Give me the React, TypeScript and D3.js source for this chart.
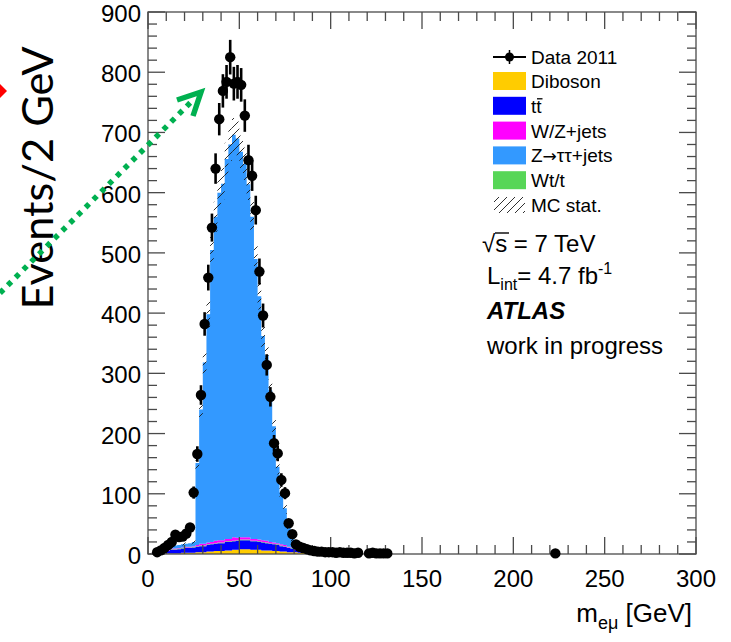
import { useRef, useEffect } from 'react'
import * as d3 from 'd3'

const FONT = '"Liberation Sans", Arial, Helvetica, sans-serif'

// 2 GeV bins, lower edges 0..98
const binLow = d3.range(0, 100, 2)

// MC backgrounds (events / 2 GeV), stacked bottom -> top
const diboson = [
  0, 0, 0, 0, 1, 1, 1, 1, 1, 2,
  2, 2, 2, 3, 3, 3, 4, 4, 5, 5,
  5, 6, 6, 7, 7, 8, 8, 8, 7, 7,
  7, 6, 6, 6, 5, 5, 4, 4, 3, 3,
  3, 2, 2, 2, 1, 1, 1, 1, 1, 1,
]
const ttbar = [
  0, 1, 2, 3, 4, 5, 6, 6, 7, 7,
  8, 8, 9, 9, 10, 10, 11, 12, 12, 13,
  13, 14, 14, 14, 15, 15, 15, 15, 14, 14,
  13, 13, 12, 11, 11, 10, 9, 8, 7, 6,
  5, 4, 3, 3, 2, 1, 1, 0, 0, 0,
]
const wtop = [
  0, 0, 0, 0, 0, 0, 1, 1, 1, 1,
  1, 1, 1, 1, 1, 1, 1, 1, 1, 1,
  1, 1, 1, 1, 1, 1, 1, 1, 1, 1,
  1, 1, 1, 1, 1, 1, 1, 1, 1, 1,
  0, 0, 0, 0, 0, 0, 0, 0, 0, 0,
]
const wzjets = [
  0, 0, 0, 0, 0, 1, 1, 1, 1, 1,
  1, 1, 1, 2, 3, 3, 3, 3, 4, 4,
  4, 4, 4, 6, 4, 4, 4, 4, 3, 3,
  3, 3, 3, 2, 2, 2, 2, 2, 1, 1,
  1, 1, 0, 0, 0, 0, 0, 0, 0, 0,
]
const ztautau = [
  0, 0, 1, 2, 3, 3, 3, 5, 5, 5,
  5, 6, 7, 136, 223, 301, 379, 485, 538, 577,
  592, 631, 655, 668, 663, 640, 620, 586, 535, 465,
  404, 339, 308, 252, 193, 127, 86, 61, 36, 15,
  5, 2, 1, 0, 0, 0, 0, 0, 0, 0,
]
const mcStatErr = [
  1, 1, 1, 1, 2, 2, 2, 2, 2, 2,
  2, 2, 3, 15, 18, 20, 22, 24, 25, 26,
  26, 27, 27, 28, 28, 27, 27, 26, 25, 24,
  22, 21, 20, 18, 16, 13, 11, 9, 7, 5,
  4, 3, 2, 2, 2, 1, 1, 1, 1, 1,
]

// data 2011, bin centres and counts
const dataX = [
  5, 7, 9, 11, 13, 15, 17, 19, 21, 23, 25, 27, 29, 31, 33, 35, 37, 39, 41, 43,
  45, 47, 49, 51, 53, 55, 57, 59, 61, 63, 65, 67, 69, 71, 73, 75, 77, 79, 81, 83,
  85, 87, 89, 91, 93, 95, 97, 99, 101, 103, 105, 107, 109, 111, 113, 115,
  121, 123, 125, 127, 129, 131, 223,
]
const dataY = [
  3, 6, 10, 15, 20, 32, 28, 29, 34, 44, 102, 166, 264, 382, 459, 542, 640, 722, 769, 784,
  825, 781, 784, 779, 728, 654, 628, 571, 469, 396, 314, 261, 184, 167, 123, 101, 51, 33, 16, 12,
  10, 8, 6, 5, 4, 4, 3, 3, 3, 2, 3, 2, 2, 2, 1, 2,
  1, 2, 1, 1, 1, 1, 1,
]

const yTicks = [0, 100, 200, 300, 400, 500, 600, 700, 800, 900]
const xTicks = [0, 50, 100, 150, 200, 250, 300]

const COLORS: Record<string, string> = {
  diboson: '#ffcc00',
  ttbar: '#0000ff',
  wtop: '#57d657',
  wzjets: '#ff00ff',
  ztautau: '#3399ff',
}
const SERIES: Record<string, number[]> = { diboson, ttbar, wtop, wzjets, ztautau }
const KEYS = ['diboson', 'ttbar', 'wtop', 'wzjets', 'ztautau']

const LEGEND = [
  { key: 'diboson', label: 'Diboson' },
  { key: 'ttbar', label: 'tt' },
  { key: 'wzjets', label: 'W/Z+jets' },
  { key: 'ztautau', label: 'Z' },
  { key: 'wtop', label: 'Wt/t' },
]

export default function App() {
  const svgRef = useRef<SVGSVGElement | null>(null)

  useEffect(() => {
    const el = svgRef.current
    if (!el) return
    const svg = d3.select(el)
    svg.selectAll('*').remove()

    const pad = { l: 148, r: 696, t: 12, b: 554 }
    const x = d3.scaleLinear().domain([0, 300]).range([pad.l, pad.r])
    const y = d3.scaleLinear().domain([0, 900]).range([pad.b, pad.t])

    const defs = svg.append('defs')
    const pat = defs.append('pattern')
      .attr('id', 'hatch').attr('patternUnits', 'userSpaceOnUse')
      .attr('width', 8).attr('height', 8)
    pat.append('path')
      .attr('d', 'M0,8 L8,0 M-2,2 L2,-2 M6,10 L10,6')
      .attr('stroke', '#1a1a1a').attr('stroke-width', 0.9)

    // stacked MC
    const rows = [...binLow, 100].map((lo, k) => {
      const i = Math.min(k, binLow.length - 1)
      const r: any = { lo, i }
      KEYS.forEach(key => { r[key] = SERIES[key][i] })
      return r
    })
    const stacked = d3.stack<any>().keys(KEYS)(rows)
    const area = d3.area<any>()
      .curve(d3.curveStepAfter)
      .x(d => x(d.data.lo))
      .y0(d => y(d[0]))
      .y1(d => y(d[1]))

    svg.append('g').selectAll('path')
      .data(stacked)
      .join('path')
      .attr('d', area)
      .attr('fill', d => COLORS[d.key])

    // MC stat band
    const total = (i: number) => KEYS.reduce((s, key) => s + SERIES[key][i], 0)
    const band = d3.area<any>()
      .curve(d3.curveStepAfter)
      .x(d => x(d.lo))
      .y0(d => y(Math.max(0, total(d.i) - mcStatErr[d.i])))
      .y1(d => y(total(d.i) + mcStatErr[d.i]))
    svg.append('path')
      .datum(rows)
      .attr('d', band)
      .attr('fill', 'url(#hatch)')

    // frame and ticks
    const axisCol = '#4a4a4a'
    const ax = svg.append('g').attr('stroke', axisCol).attr('stroke-width', 1.3)
    ax.append('rect')
      .attr('x', pad.l).attr('y', pad.t)
      .attr('width', pad.r - pad.l).attr('height', pad.b - pad.t)
      .attr('fill', 'none')

    const yMinor = d3.range(0, 901, 20)
    ax.selectAll('.yl').data(yMinor).join('line')
      .attr('x1', pad.l).attr('x2', d => pad.l + (d % 100 === 0 ? 17 : 9))
      .attr('y1', d => y(d)).attr('y2', d => y(d))
    ax.selectAll('.yr').data(yMinor).join('line')
      .attr('x1', pad.r).attr('x2', d => pad.r - (d % 100 === 0 ? 17 : 9))
      .attr('y1', d => y(d)).attr('y2', d => y(d))
    const xMinor = d3.range(0, 301, 10)
    ax.selectAll('.xb').data(xMinor).join('line')
      .attr('x1', d => x(d)).attr('x2', d => x(d))
      .attr('y1', pad.b).attr('y2', d => pad.b - (d % 50 === 0 ? 17 : 9))
    ax.selectAll('.xt').data(xMinor).join('line')
      .attr('x1', d => x(d)).attr('x2', d => x(d))
      .attr('y1', pad.t).attr('y2', d => pad.t + (d % 50 === 0 ? 17 : 9))

    svg.append('g').selectAll('text').data(yTicks).join('text')
      .attr('x', 141).attr('y', d => y(d) + 10)
      .attr('text-anchor', 'end').attr('font-size', 24)
      .attr('font-family', FONT).attr('fill', '#000')
      .text(d => d)
    svg.append('g').selectAll('text').data(xTicks).join('text')
      .attr('x', d => x(d)).attr('y', 587)
      .attr('text-anchor', 'middle').attr('font-size', 24)
      .attr('font-family', FONT).attr('fill', '#000')
      .text(d => d)

    // data points
    const pts = svg.append('g')
    dataX.forEach((c, i) => {
      const v = dataY[i]
      const e = Math.sqrt(v)
      pts.append('line')
        .attr('x1', x(c)).attr('x2', x(c))
        .attr('y1', y(v - e)).attr('y2', y(v + e))
        .attr('stroke', '#000').attr('stroke-width', 2.6)
      pts.append('circle')
        .attr('cx', x(c)).attr('cy', y(v)).attr('r', 5.2)
        .attr('fill', '#000')
    })

    // axis title
    const xt = svg.append('text')
      .attr('x', 692).attr('y', 622)
      .attr('text-anchor', 'end').attr('font-size', 26)
      .attr('font-family', FONT).attr('fill', '#000')
    xt.append('tspan').text('m')
    xt.append('tspan').attr('font-size', 18).attr('dy', 7).text('e\u03bc')
    xt.append('tspan').attr('dy', -7).text(' [GeV]')

    // legend
    const lg = svg.append('g').attr('font-family', FONT).attr('font-size', 19).attr('fill', '#000')
    lg.append('line').attr('x1', 493).attr('x2', 526).attr('y1', 57).attr('y2', 57)
      .attr('stroke', '#000').attr('stroke-width', 2)
    lg.append('line').attr('x1', 509.5).attr('x2', 509.5).attr('y1', 50).attr('y2', 64)
      .attr('stroke', '#000').attr('stroke-width', 1.5)
    lg.append('circle').attr('cx', 509.5).attr('cy', 57).attr('r', 4.5).attr('fill', '#000')
    lg.append('text').attr('x', 531).attr('y', 64).text('Data 2011')

    LEGEND.forEach((item, k) => {
      const top = 72 + k * 24.8
      lg.append('rect').attr('x', 493).attr('y', top).attr('width', 33).attr('height', 18)
        .attr('fill', COLORS[item.key])
      const t = lg.append('text').attr('x', 531).attr('y', top + 16).text(item.label)
      if (item.key === 'ztautau') {
        t.append('tspan').attr('font-family', '"DejaVu Sans", sans-serif').attr('font-size', 17).text('\u2192')
        t.append('tspan').text('\u03c4\u03c4+jets')
      }
      if (item.key === 'ttbar') {
        lg.append('line').attr('x1', 537).attr('x2', 542.5)
          .attr('y1', top + 2).attr('y2', top + 2)
          .attr('stroke', '#000').attr('stroke-width', 1.3)
      }
    })
    lg.append('rect').attr('x', 494).attr('y', 197).attr('width', 31).attr('height', 16)
      .attr('fill', 'url(#hatch)')
    lg.append('text').attr('x', 531).attr('y', 212).text('MC stat.')

    // run info
    const info = svg.append('g').attr('font-family', FONT).attr('font-size', 24).attr('fill', '#000')
    info.append('text').attr('x', 482).attr('y', 252).text('\u221as = 7 TeV')
    info.append('line').attr('x1', 495).attr('x2', 509).attr('y1', 233).attr('y2', 233)
      .attr('stroke', '#000').attr('stroke-width', 1.4)
    const lint = info.append('text').attr('x', 487).attr('y', 284)
    lint.append('tspan').text('L')
    lint.append('tspan').attr('font-size', 16).attr('dy', 6).text('int')
    lint.append('tspan').attr('dy', -6).text('= 4.7 fb')
    lint.append('tspan').attr('font-size', 16).attr('dy', -10).text('-1')
    info.append('text').attr('x', 487).attr('y', 319)
      .attr('font-weight', 'bold').attr('font-style', 'italic').text('ATLAS')
    info.append('text').attr('x', 487).attr('y', 354).text('work in progress')

    // slide annotations
    svg.append('text')
      .attr('transform', 'translate(53,178) rotate(-90)')
      .attr('text-anchor', 'middle').attr('font-size', 42)
      .attr('font-family', 'Lato, "Open Sans", sans-serif').attr('fill', '#000')
      .attr('textLength', 263).attr('lengthAdjust', 'spacingAndGlyphs')
      .text('Events/2 GeV')
    svg.append('polygon')
      .attr('points', '7,91 -4,80 -15,91 -4,102')
      .attr('fill', '#ff0000')
    svg.append('line')
      .attr('x1', 0).attr('y1', 293).attr('x2', 193).attr('y2', 100)
      .attr('stroke', '#00b050').attr('stroke-width', 5.5)
      .attr('stroke-dasharray', '5,6')
    svg.append('polyline')
      .attr('points', '177,100 201,92 193,116')
      .attr('fill', 'none').attr('stroke', '#00b050').attr('stroke-width', 5.5)
      .attr('stroke-linejoin', 'miter')
  }, [])

  return (
    <svg
      ref={svgRef}
      width={731}
      height={642}
      style={{ position: 'absolute', left: 0, top: 0, background: '#fff' }}
    />
  )
}
